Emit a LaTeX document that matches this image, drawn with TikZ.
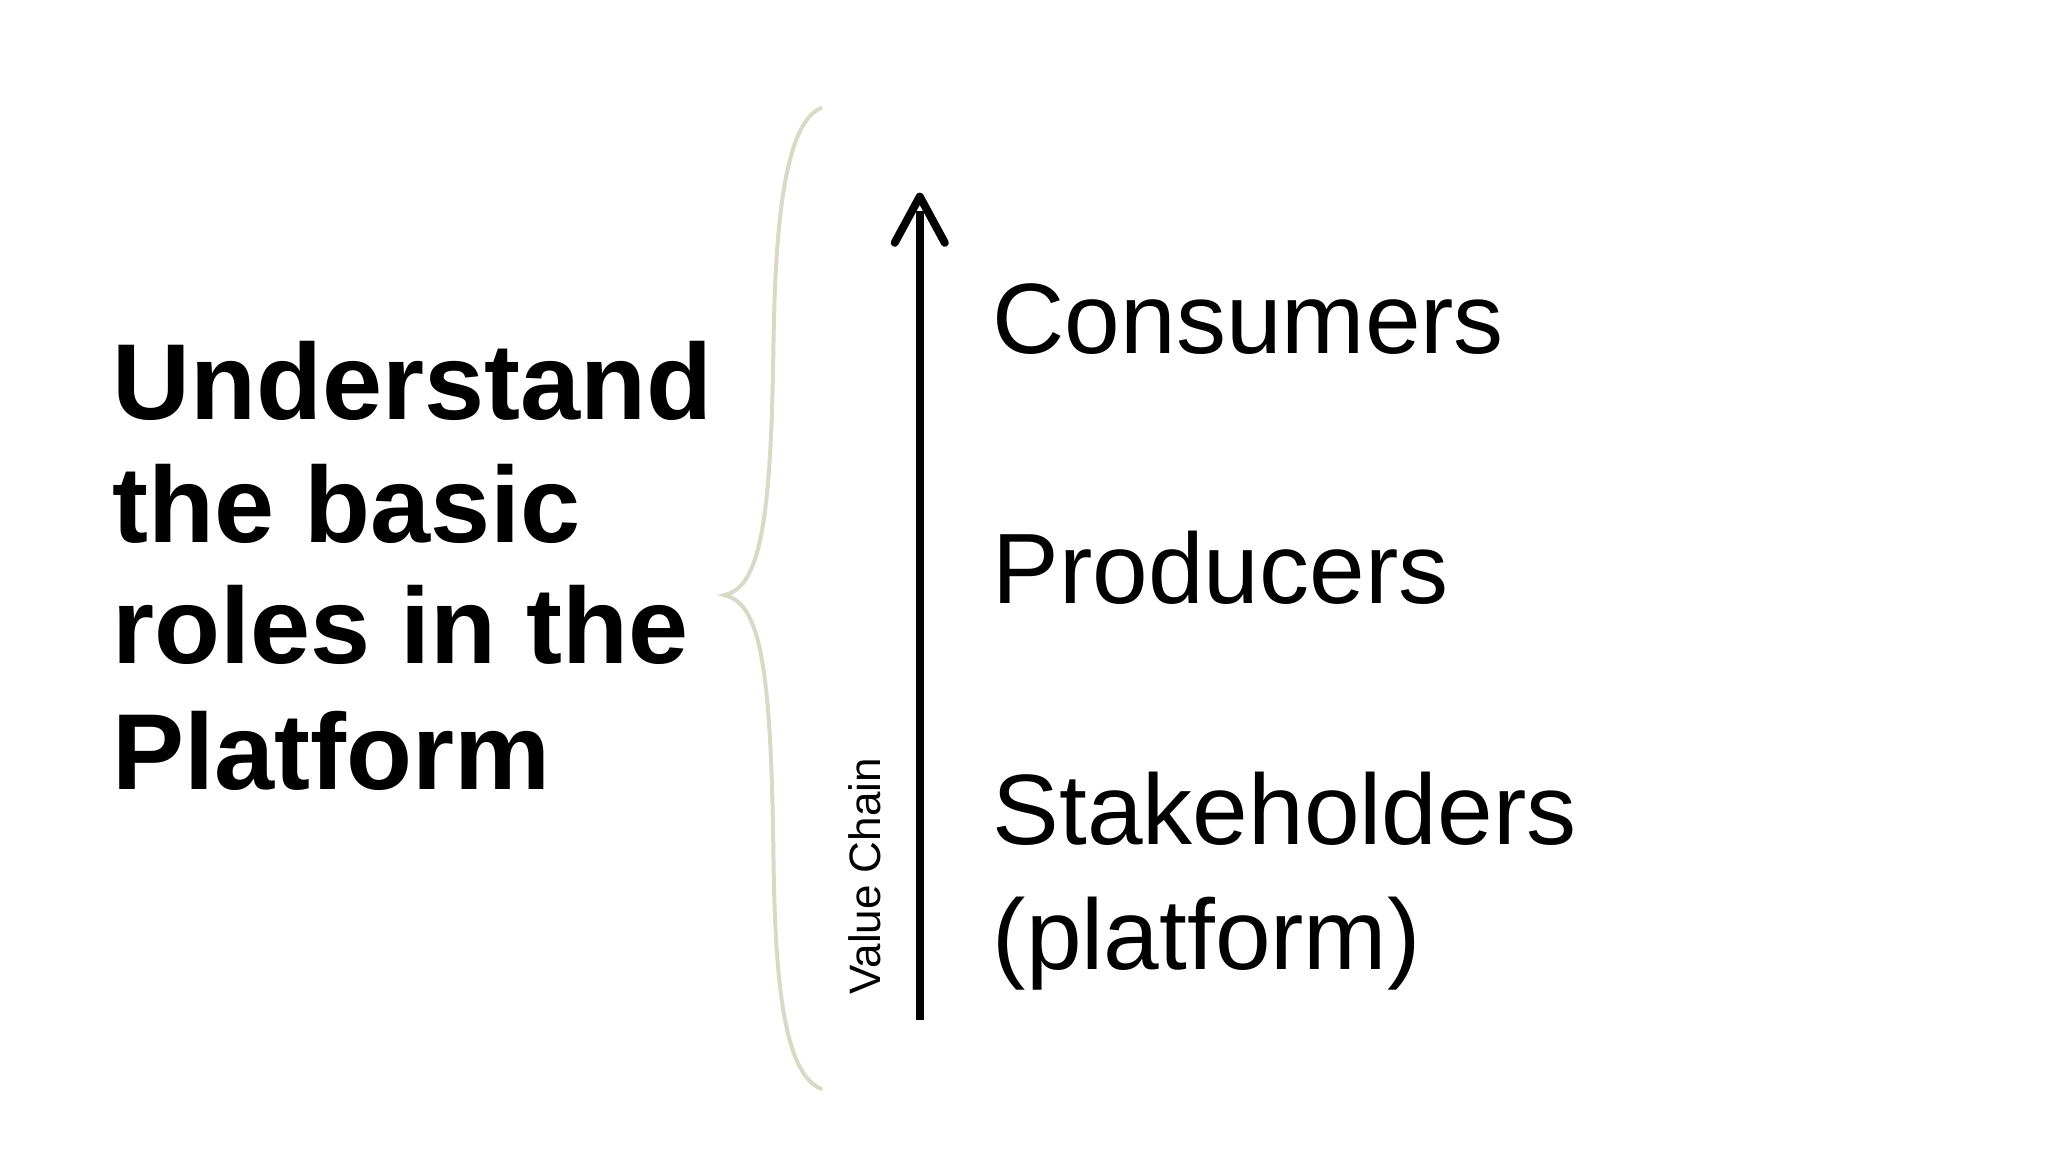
\documentclass[tikz,border=0pt]{standalone}
\usepackage{fontspec}
\setmainfont{Liberation Sans}
\definecolor{bracec}{HTML}{D9D9C6}
\begin{document}
\begin{tikzpicture}[x=0.6598pt,y=-0.6598pt,
  role/.style={anchor=base west,inner sep=0pt,font=\fontsize{50}{62}\selectfont},
  title/.style={anchor=base west,inner sep=0pt,font=\fontsize{54}{61}\selectfont\bfseries,align=left}]
\useasboundingbox (0,0) rectangle (1552,873);
\node[title] (t1) at (85,318) {Understand};
\node[title] (t2) at (85,411) {the basic};
\node[title] (t3) at (85,503) {roles in the};
\node[title] (t4) at (85,598) {Platform};
\draw[bracec,line width=2pt,line cap=round] (622,82) .. controls (590,95) and (587,200) .. (586,270)
  .. controls (584,400) and (575,445) .. (549,451)
  .. controls (575,457) and (584,500) .. (586,640)
  .. controls (587,720) and (590,812) .. (622,825);
\coordinate (a0) at (697,773);
\coordinate (a1) at (697,149);
\draw[line width=4pt] (a0) -- (697,160);
\draw[line width=4pt,line cap=round,line join=round] (678,184) -- (a1) -- (716,184);
\node[rotate=90,inner sep=0pt,font=\fontsize{22}{26}\selectfont] (vc) at (655,664) {Value Chain};
\node[role] (c) at (752,268) {Consumers};
\node[role] (p) at (752,457) {Producers};
\node[role] (s) at (752,640) {Stakeholders};
\node[role] (s2) at (752,735) {(platform)};
\end{tikzpicture}
\end{document}
